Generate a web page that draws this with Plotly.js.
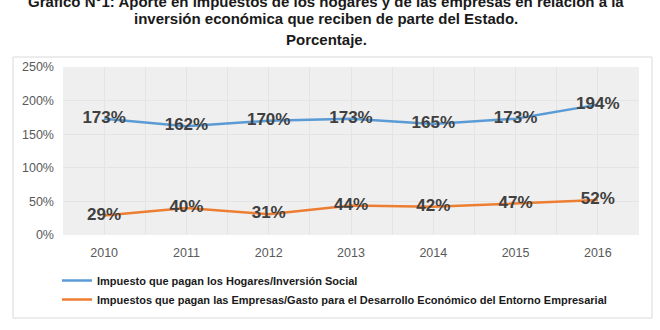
<!DOCTYPE html>
<html>
<head>
<meta charset="utf-8">
<script src="https://cdn.plot.ly/plotly-3.0.1.min.js"></script>
<style>html,body{margin:0;padding:0;background:#fff;}#chart{width:660px;height:330px;}</style>
</head>
<body>
<div id="chart"></div>
<script>
const years = [2010, 2011, 2012, 2013, 2014, 2015, 2016];
const hogares = [173, 162, 170, 173, 165, 173, 194];
const empresas = [29, 40, 31, 44, 42, 47, 52];
const seriesNames = [
  "Impuesto que pagan los Hogares/Inversión Social",
  "Impuestos que pagan las Empresas/Gasto para el Desarrollo Económico del Entorno Empresarial"
];
const titleLines = [
  "Gráfico N°1: Aporte en impuestos de los hogares y de las empresas en relación a la",
  "inversión económica que reciben de parte del Estado.",
  "Porcentaje."
];
const yTicks = [0, 50, 100, 150, 200, 250];

const FONT = "Liberation Sans, Arial, sans-serif";
const labelFont = {family: FONT, size: 17, color: "#404040", weight: 700};

function mkTrace(y, name, color, group) {
  return {
    x: years, y: y, name: name, type: "scatter", mode: "lines+text",
    line: {color: color, width: 2.5},
    text: y.map(v => v + "%"), textposition: "middle center",
    textfont: labelFont, legendgroup: group, cliponaxis: false,
    hoverinfo: "skip"
  };
}

const data = [
  mkTrace(hogares, seriesNames[0], "#5b9bd5", "a"),
  mkTrace(empresas, seriesNames[1], "#ed7d31", "b")
];

const L = 63, R = 21, T = 67, B = 95;
const W = 660 - L - R, H = 330 - T - B;
const px = x => (x - L) / W;
const py = y => (330 - B - y) / H;

const layout = {
  width: 660, height: 330,
  margin: {l: L, r: R, t: T, b: B, pad: 0, autoexpand: false},
  paper_bgcolor: "#ffffff",
  plot_bgcolor: "#efefef",
  showlegend: true,
  font: {family: FONT, color: "#595959"},
  xaxis: {
    type: "linear", range: [2009.5, 2016.5], tickvals: years,
    ticktext: years.map(String),
    showgrid: true, gridcolor: "#e4e4e4", gridwidth: 1,
    minor: {dtick: 1, tick0: 2009.5, showgrid: true, gridcolor: "#e4e4e4"},
    zeroline: false, showline: false, ticks: "",
    tickfont: {family: FONT, size: 12.5, color: "#595959"},
    ticklabelstandoff: 8, fixedrange: true, automargin: false
  },
  yaxis: {
    range: [0, 250], tickvals: yTicks, ticktext: yTicks.map(v => v + "%"),
    showgrid: true, gridcolor: "#e4e4e4", gridwidth: 1,
    zeroline: false, showline: false, ticks: "",
    tickfont: {family: FONT, size: 12.5, color: "#595959"},
    ticklabelstandoff: 8, fixedrange: true, automargin: false
  },
  legend: {
    orientation: "v", xref: "container", x: 57 / 660, xanchor: "left",
    yref: "container", y: 1 - 266 / 330, yanchor: "top",
    font: {family: FONT, size: 11, color: "#1a1a1a", weight: 700},
    bgcolor: "rgba(0,0,0,0)", tracegroupgap: 0, itemwidth: 30
  },
  shapes: [{
    type: "rect", xref: "paper", yref: "paper",
    x0: px(13), x1: px(652), y0: py(318), y1: py(57),
    line: {color: "#d9d9d9", width: 1}, fillcolor: "rgba(0,0,0,0)", layer: "below"
  }],
  annotations: titleLines.map((t, i) => ({
    text: t, xref: "paper", yref: "paper", x: px(326), xanchor: "center",
    y: py([1, 19, 40][i]), yanchor: "middle", showarrow: false,
    font: {family: FONT, size: 15, color: "#1a1a1a", weight: 700}
  }))
};

Plotly.newPlot("chart", data, layout, {staticPlot: true, displayModeBar: false});
</script>
</body>
</html>
